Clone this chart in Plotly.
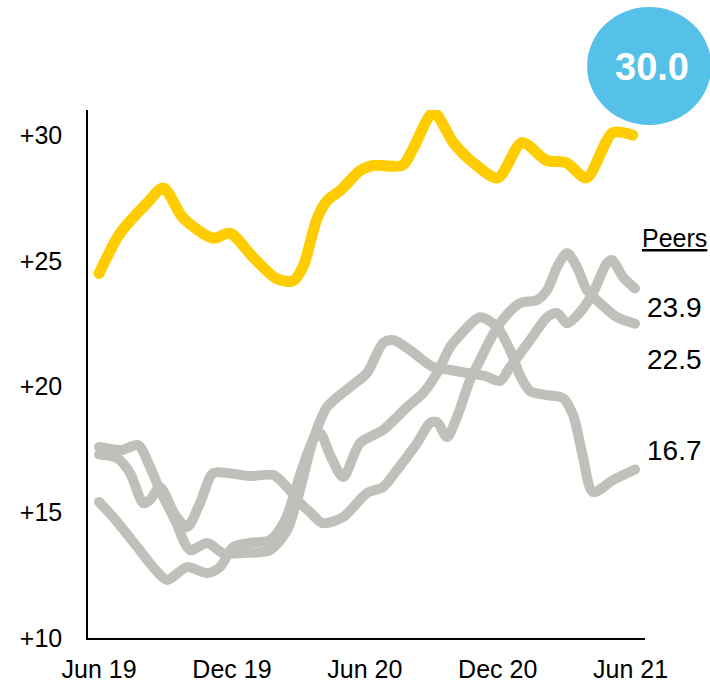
import plotly.graph_objects as go

# ---- data (x = months since Jun 2019) ----
tick_vals = [0, 6, 12, 18, 24]
tick_text = ["Jun 19", "Dec 19", "Jun 20", "Dec 20", "Jun 21"]
y_tick_vals = [10, 15, 20, 25, 30]
y_tick_text = ["+10", "+15", "+20", "+25", "+30"]

main_x = [0, 0.95, 2.17, 2.9, 3.8, 5.15, 5.9, 6.95, 8.0, 8.75, 9.2, 9.85, 10.3, 10.9,
          11.8, 12.4, 13.7, 14.2, 15.1, 16.0, 16.9, 18.0, 19.1, 20.2, 21.1, 22.0, 23.2, 24.1]
main_y = [24.5, 26.1, 27.3, 27.9, 26.7, 25.9, 26.1, 25.15, 24.3, 24.2, 24.75, 26.7, 27.4, 27.8,
          28.6, 28.8, 28.8, 29.5, 30.9, 29.7, 28.9, 28.3, 29.7, 29.0, 28.9, 28.3, 30.1, 30.0]

peer1_x = [0, 0.81, 1.40, 1.99, 2.30, 2.75, 3.43, 3.97, 4.56, 5.15, 5.78, 6.82, 7.86, 8.49,
           9.07, 9.53, 10.11, 11.02, 12.10, 12.82, 13.45, 14.36, 14.94, 15.26, 15.71, 16.16,
           16.75, 17.2, 17.65, 18.1, 19.0, 19.77, 20.23, 20.68, 21.13, 21.58, 22.03, 22.62,
           23.39, 24.2]
peer1_y = [17.3, 17.16, 16.56, 15.37, 15.49, 16.0, 14.9, 14.41, 15.37, 16.56, 16.56, 16.44,
           16.48, 16.0, 15.37, 15.0, 14.57, 14.81, 15.77, 16.0, 16.68, 17.75, 18.55, 18.59,
           17.99, 18.79, 20.26, 21.05, 21.85, 22.52, 23.32, 23.44, 23.84, 24.75, 25.31, 24.75,
           23.84, 23.32, 22.76, 22.5]

peer2_x = [0, 1.04, 1.76, 2.30, 2.75, 3.43, 4.11, 4.88, 5.6, 6.5, 7.72, 8.49, 9.07, 9.66,
           10.29, 11.33, 12.1, 12.82, 13.27, 14.04, 15.08, 15.85, 16.61, 17.43, 18.1, 18.56,
           19.46, 20.23, 20.68, 21.13, 21.72, 22.3, 22.93, 23.16, 23.66, 24.2]
peer2_y = [17.6, 17.48, 17.67, 16.8, 15.88, 14.69, 13.5, 13.78, 13.38, 13.38, 13.5, 14.29,
           15.88, 17.87, 19.18, 19.98, 20.54, 21.73, 21.85, 21.45, 20.78, 20.66, 20.54, 20.42,
           20.22, 20.78, 21.85, 22.76, 22.92, 22.52, 22.96, 23.72, 24.91, 25.03, 24.35, 23.9]

peer3_x = [0, 0.63, 1.72, 2.44, 3.07, 3.97, 4.88, 5.46, 6.05, 6.82, 7.72, 8.4, 9.07, 9.66,
           9.98, 10.43, 11.02, 11.78, 12.82, 13.9, 14.63, 15.26, 15.85, 16.3, 17.2, 17.97,
           18.56, 19.0, 19.46, 20.23, 20.95, 21.4, 21.85, 22.3, 23.2, 24.2]
peer3_y = [15.41, 14.81, 13.62, 12.82, 12.31, 12.82, 12.58, 12.82, 13.62, 13.78, 13.9, 14.69,
           16.48, 17.87, 18.15, 17.28, 16.4, 17.75, 18.27, 19.18, 19.74, 20.54, 21.57, 22.05,
           22.76, 22.37, 21.45, 20.46, 19.82, 19.66, 19.54, 18.87, 17.2, 15.8, 16.28, 16.7]

peer_labels = ["23.9", "22.5", "16.7"]
peer_label_y = [23.16, 21.09, 17.47]
main_label = "30.0"

YELLOW = "#FFCC00"
GREY = "#BFC0BA"
BLUE = "#56C1E8"
FONT = "Liberation Sans, Arial, sans-serif"

fig = go.Figure()
for xs, ys in [(peer1_x, peer1_y), (peer2_x, peer2_y), (peer3_x, peer3_y)]:
    fig.add_trace(go.Scatter(x=xs, y=ys, mode="lines",
                             line=dict(color=GREY, width=10, shape="spline", smoothing=0.8),
                             hoverinfo="skip", showlegend=False))
fig.add_trace(go.Scatter(x=main_x, y=main_y, mode="lines",
                         line=dict(color=YELLOW, width=11, shape="spline", smoothing=0.8),
                         hoverinfo="skip", showlegend=False))

for txt, yy in zip(peer_labels, peer_label_y):
    fig.add_annotation(x=24.65, y=yy, xref="x", yref="y", text=txt, showarrow=False,
                       xanchor="left", yanchor="middle",
                       font=dict(family=FONT, size=28, color="#000000"))
fig.add_annotation(x=24.42, y=25.9, xref="x", yref="y", text="<u>Peers</u>", showarrow=False,
                   xanchor="left", yanchor="middle",
                   font=dict(family=FONT, size=25, color="#000000"))

# badge with the latest value
fig.add_shape(type="circle", xref="paper", yref="paper",
              x0=0.896, x1=1.119, y0=0.9716, y1=1.195,
              fillcolor=BLUE, line=dict(width=0), layer="above")
fig.add_annotation(x=1.0126, y=1.0814, xref="paper", yref="paper", text="<b>%s</b>" % main_label,
                   showarrow=False, xanchor="center", yanchor="middle",
                   font=dict(family=FONT, size=38, color="#FFFFFF"))

fig.update_layout(
    width=710, height=683,
    margin=dict(l=88, r=65, t=110, b=45, autoexpand=False),
    paper_bgcolor="white", plot_bgcolor="white",
    font=dict(family=FONT, size=25, color="#000000"),
    xaxis=dict(range=[-0.5, 24.65], tickvals=tick_vals, ticktext=tick_text,
               showgrid=False, zeroline=False, showline=True, linecolor="#000000",
               linewidth=1.5, ticks="", ticklabelstandoff=8,
               tickfont=dict(family=FONT, size=25, color="#000000"), automargin=False),
    yaxis=dict(range=[10, 31], tickvals=y_tick_vals, ticktext=y_tick_text,
               showgrid=False, zeroline=False, showline=True, linecolor="#000000",
               linewidth=1.5, ticks="", ticklabelstandoff=19,
               tickfont=dict(family=FONT, size=25, color="#000000"), automargin=False),
)

page_fix = ("document.body.style.margin='0';"
            "document.body.style.overflow='hidden';"
            "document.documentElement.style.overflow='hidden';"
            "document.querySelectorAll('.js-line').forEach(function(p){"
            "p.style.strokeLinecap='round';p.style.strokeLinejoin='round';});")
fig.write_html("out.html", post_script=page_fix, config={"displayModeBar": False})
